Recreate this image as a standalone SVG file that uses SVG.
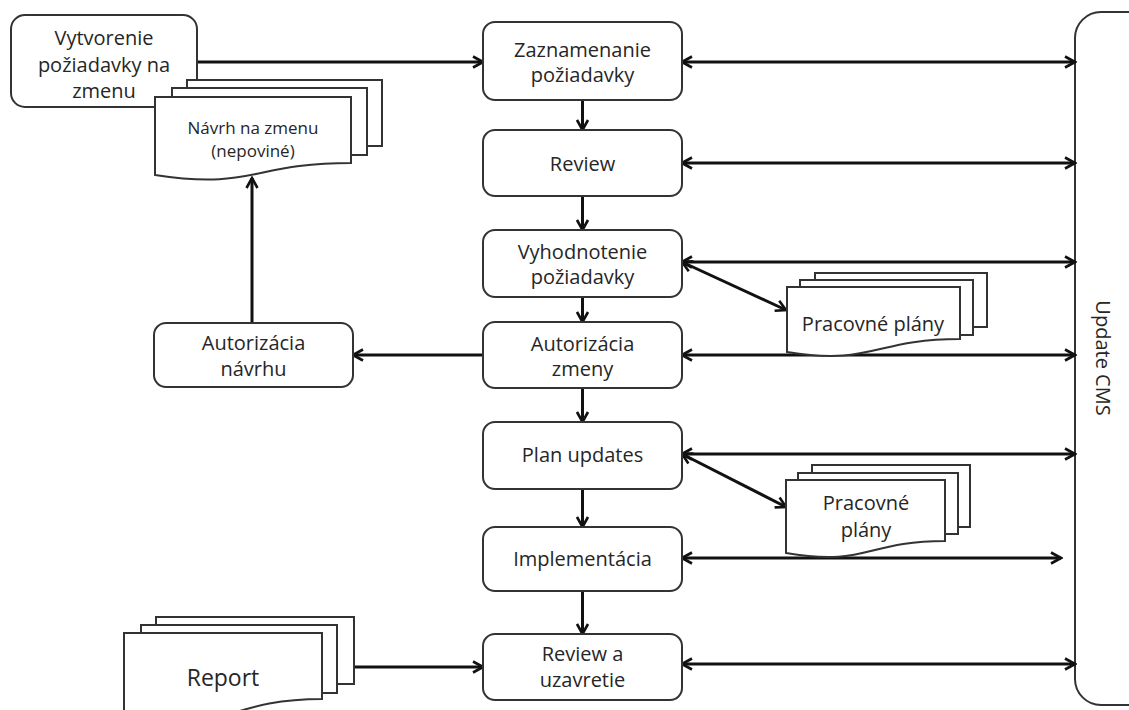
<svg xmlns="http://www.w3.org/2000/svg" width="1129" height="710" viewBox="0 0 1129 710">
  <defs>
    <marker id="ah" viewBox="0 0 14 14" refX="12" refY="7" markerWidth="14" markerHeight="14" markerUnits="userSpaceOnUse" orient="auto-start-reverse">
      <path d="M2,1.5 L12,7 L2,12.5" fill="none" stroke="#111" stroke-width="2.6" stroke-linejoin="miter"/>
    </marker>
  </defs>
  <style>
    .box { fill: #fff; stroke: #333; stroke-width: 2; }
    .doc { fill: #fff; stroke: #333; stroke-width: 2; }
    .lbl { font-family: "Open Sans", "Liberation Sans", sans-serif; font-size: 20px; fill: #262626; text-anchor: middle; }
    .small { font-size: 17px; }
    .big { font-size: 23px; }
    .ln { fill: none; stroke: #111; stroke-width: 3; }
    .one { marker-end: url(#ah); }
    .two { marker-start: url(#ah); marker-end: url(#ah); }
  </style>
  <rect width="1129" height="710" fill="#fff"/>

  <!-- CMS side bar -->
  <g id="update-cms">
    <rect class="box" x="1075" y="12" width="90" height="693" rx="26"/>
    <text class="lbl" transform="translate(1096,358) rotate(90)">Update CMS</text>
  </g>

  <!-- connectors -->
  <g id="connectors">
    <path class="ln one" d="M197,62 H483"/>
    <path class="ln two" d="M682,62 H1075"/>
    <path class="ln two" d="M682,163 H1075"/>
    <path class="ln two" d="M682,262 H1075"/>
    <path class="ln two" d="M682,355 H1075"/>
    <path class="ln two" d="M682,454 H1075"/>
    <path class="ln two" d="M682,558 H1061"/>
    <path class="ln two" d="M682,664 H1075"/>
    <path class="ln two" d="M682,262 L786,310"/>
    <path class="ln two" d="M682,454 L786,507"/>
    <path class="ln one" d="M582.5,100 V130"/>
    <path class="ln one" d="M582.5,196 V230"/>
    <path class="ln one" d="M582.5,297 V322"/>
    <path class="ln one" d="M582.5,388 V422"/>
    <path class="ln one" d="M582.5,489 V527"/>
    <path class="ln one" d="M582.5,591 V634"/>
    <path class="ln one" d="M483,355 H353"/>
    <path class="ln one" d="M252,322 V178"/>
    <path class="ln one" d="M354,667 H483"/>
  </g>

  <g id="vytvorenie">
    <rect class="box" x="11" y="15" width="186" height="92" rx="14"/>
    <text class="lbl" x="104" y="45">Vytvorenie</text>
    <text class="lbl" x="104" y="72">požiadavky na</text>
    <text class="lbl" x="104" y="98">zmenu</text>
  </g>

  <g id="navrh-na-zmenu">
    <rect class="doc" x="187" y="80" width="195" height="66"/>
    <rect class="doc" x="172" y="88" width="195" height="67"/>
    <path class="doc" d="M155,97 H351 V163 C253,163 253,190 155,175 Z"/>
    <text class="lbl small" x="253" y="134">Návrh na zmenu</text>
    <text class="lbl small" x="253" y="157">(nepoviné)</text>
  </g>

  <g id="zaznamenanie">
    <rect class="box" x="483" y="22" width="199" height="78" rx="12"/>
    <text class="lbl" x="582.5" y="57">Zaznamenanie</text>
    <text class="lbl" x="582.5" y="82">požiadavky</text>
  </g>

  <g id="review">
    <rect class="box" x="483" y="130" width="199" height="66" rx="12"/>
    <text class="lbl" x="582.5" y="171">Review</text>
  </g>

  <g id="vyhodnotenie">
    <rect class="box" x="483" y="230" width="199" height="67" rx="12"/>
    <text class="lbl" x="582.5" y="259">Vyhodnotenie</text>
    <text class="lbl" x="582.5" y="284">požiadavky</text>
  </g>

  <g id="pracovne-plany-1">
    <rect class="doc" x="815" y="273" width="172" height="54"/>
    <rect class="doc" x="800" y="280" width="173" height="55"/>
    <path class="doc" d="M787,287 H960 V339 C873,339 873,366 787,352 Z"/>
    <text class="lbl" x="873" y="331">Pracovné plány</text>
  </g>

  <g id="autorizacia-zmeny">
    <rect class="box" x="483" y="322" width="199" height="66" rx="12"/>
    <text class="lbl" x="582.5" y="351">Autorizácia</text>
    <text class="lbl" x="582.5" y="376">zmeny</text>
  </g>

  <g id="autorizacia-navrhu">
    <rect class="box" x="154" y="323" width="199" height="64" rx="12"/>
    <text class="lbl" x="253.5" y="350">Autorizácia</text>
    <text class="lbl" x="253.5" y="376">návrhu</text>
  </g>

  <g id="plan-updates">
    <rect class="box" x="483" y="422" width="199" height="67" rx="12"/>
    <text class="lbl" x="582.5" y="462">Plan updates</text>
  </g>

  <g id="pracovne-plany-2">
    <rect class="doc" x="812" y="465" width="158" height="62"/>
    <rect class="doc" x="798" y="473" width="160" height="61"/>
    <path class="doc" d="M786,480 H945 V541 C866,541 866,567 786,553 Z"/>
    <text class="lbl" x="866" y="510">Pracovné</text>
    <text class="lbl" x="866" y="537">plány</text>
  </g>

  <g id="implementacia">
    <rect class="box" x="483" y="527" width="199" height="64" rx="12"/>
    <text class="lbl" x="582.5" y="566">Implementácia</text>
  </g>

  <g id="review-uzavretie">
    <rect class="box" x="483" y="634" width="199" height="66" rx="12"/>
    <text class="lbl" x="582.5" y="661">Review a</text>
    <text class="lbl" x="582.5" y="687">uzavretie</text>
  </g>

  <g id="report">
    <rect class="doc" x="156" y="617" width="198" height="67"/>
    <rect class="doc" x="141" y="625" width="196" height="68"/>
    <path class="doc" d="M124,633 H322 V699 C223,699 223,738 124,718 Z"/>
    <text class="lbl big" x="223" y="686">Report</text>
  </g>
</svg>
